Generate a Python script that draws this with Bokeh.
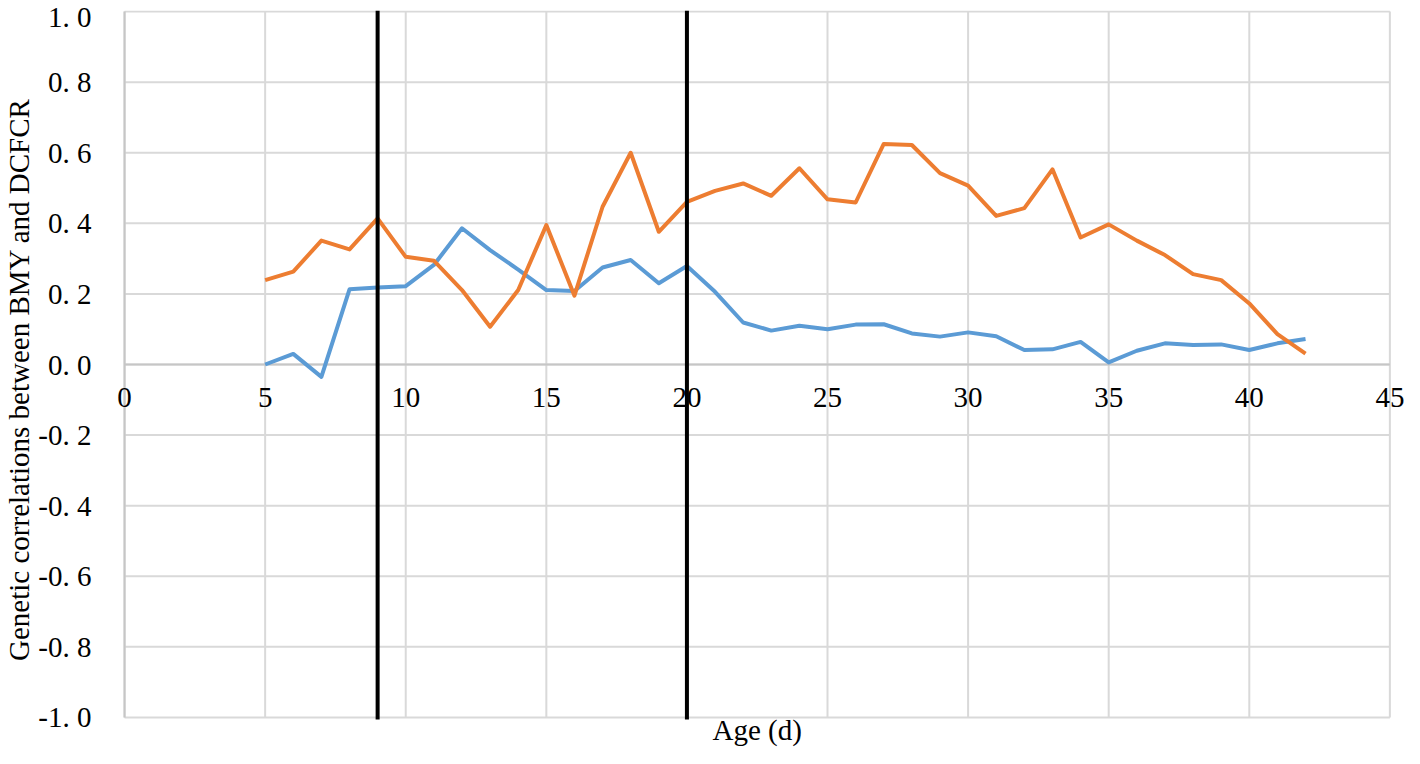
from bokeh.plotting import figure
from bokeh.models import Range1d, FixedTicker, Label
from bokeh.embed import file_html
from bokeh.resources import INLINE

# ---- data ----
ages = list(range(5, 43))
blue_vals = [0.00, 0.03, -0.035, 0.213, 0.218, 0.222, 0.282, 0.386, 0.324, 0.269,
             0.211, 0.208, 0.275, 0.296, 0.230, 0.279, 0.206, 0.119, 0.096, 0.110,
             0.100, 0.113, 0.114, 0.088, 0.079, 0.091, 0.080, 0.041, 0.043, 0.064,
             0.006, 0.039, 0.060, 0.055, 0.057, 0.041, 0.060, 0.072]
orange_vals = [0.239, 0.263, 0.351, 0.326, 0.414, 0.305, 0.294, 0.211, 0.107, 0.211,
               0.395, 0.195, 0.447, 0.600, 0.376, 0.461, 0.492, 0.513, 0.478, 0.556,
               0.468, 0.459, 0.625, 0.622, 0.542, 0.507, 0.421, 0.443, 0.553, 0.360,
               0.397, 0.351, 0.310, 0.256, 0.239, 0.173, 0.086, 0.031]
marker_ages = [9, 20]
x_ticks = [0, 5, 10, 15, 20, 25, 30, 35, 40, 45]
x_tick_labels = ["0", "5", "10", "15", "20", "25", "30", "35", "40", "45"]
y_ticks = [-1.0, -0.8, -0.6, -0.4, -0.2, 0.0, 0.2, 0.4, 0.6, 0.8, 1.0]
y_tick_labels = ["-1. 0", "-0. 8", "-0. 6", "-0. 4", "-0. 2", "0. 0",
                 "0. 2", "0. 4", "0. 6", "0. 8", "1. 0"]
x_title = "Age (d)"
y_title = "Genetic correlations between BMY and DCFCR"

FONT = "Liberation Serif"
GRID = "#d9d9d9"
AXIS = "#c6c6c6"
TICK_FS = "29px"

xmin, xmax = x_ticks[0], x_ticks[-1]
ymin, ymax = y_ticks[0], y_ticks[-1]

# room around the 0..45 x -1..1 area for the end tick labels and the x title
p = figure(width=1404, height=748, output_backend="svg", toolbar_location=None,
           x_range=Range1d(xmin - 0.5, xmax + 0.52), y_range=Range1d(ymin - 0.088, ymax + 0.003),
           x_axis_location=None, y_axis_location="left",
           min_border_left=103, min_border_right=-8, min_border_top=10, min_border_bottom=0)
p.outline_line_color = None
p.background_fill_color = "white"
p.border_fill_color = "white"
p.xgrid.visible = False
p.ygrid.visible = False

yaxis = p.yaxis[0]
yaxis.ticker = FixedTicker(ticks=y_ticks)
yaxis.major_label_overrides = {v: s for v, s in zip(y_ticks, y_tick_labels)}
yaxis.axis_line_color = None
yaxis.major_tick_out = 0
yaxis.major_tick_in = 0
yaxis.minor_tick_out = 0
yaxis.minor_tick_in = 0
yaxis.major_label_text_font = FONT
yaxis.major_label_text_font_size = TICK_FS
yaxis.major_label_text_color = "black"
yaxis.major_label_standoff = 19
yaxis.axis_label = y_title
yaxis.axis_label_text_font = FONT
yaxis.axis_label_text_font_size = "29px"
yaxis.axis_label_text_font_style = "normal"
yaxis.axis_label_text_color = "black"
yaxis.axis_label_standoff = 0

# grid lines limited to the 0..45 x -1..1 area
p.segment(x0=[xmin] * len(y_ticks), x1=[xmax] * len(y_ticks), y0=y_ticks, y1=y_ticks,
          line_color=GRID, line_width=2)
p.segment(x0=x_ticks, x1=x_ticks, y0=[ymin] * len(x_ticks), y1=[ymax] * len(x_ticks),
          line_color=GRID, line_width=2)
# axis lines (x axis crosses at y = 0)
p.segment(x0=[xmin], x1=[xmax], y0=[0.0], y1=[0.0], line_color=AXIS, line_width=2)
p.segment(x0=[xmin], x1=[xmin], y0=[ymin], y1=[ymax], line_color=AXIS, line_width=2)

for t, lab in zip(x_ticks, x_tick_labels):
    p.add_layout(Label(x=t, y=0.0, text=lab, y_offset=-23,
                       text_align="center", text_baseline="top",
                       text_font=FONT, text_font_size=TICK_FS, text_color="black"))

p.add_layout(Label(x=(xmin + xmax) / 2, y=ymin, text=x_title, y_offset=-29,
                   text_align="center", text_baseline="bottom",
                   text_font=FONT, text_font_size="29px", text_color="black"))

p.line(ages, blue_vals, line_color="#5b9bd5", line_width=4, line_join="round")
p.line(ages, orange_vals, line_color="#ed7d31", line_width=4, line_join="round")

# vertical marker lines across the -1..1 area
p.segment(x0=marker_ages, x1=marker_ages, y0=[ymin - 0.006] * len(marker_ages),
          y1=[ymax + 0.003] * len(marker_ages), line_color="black", line_width=4)

open("out.html", "w").write(file_html(p, INLINE))
